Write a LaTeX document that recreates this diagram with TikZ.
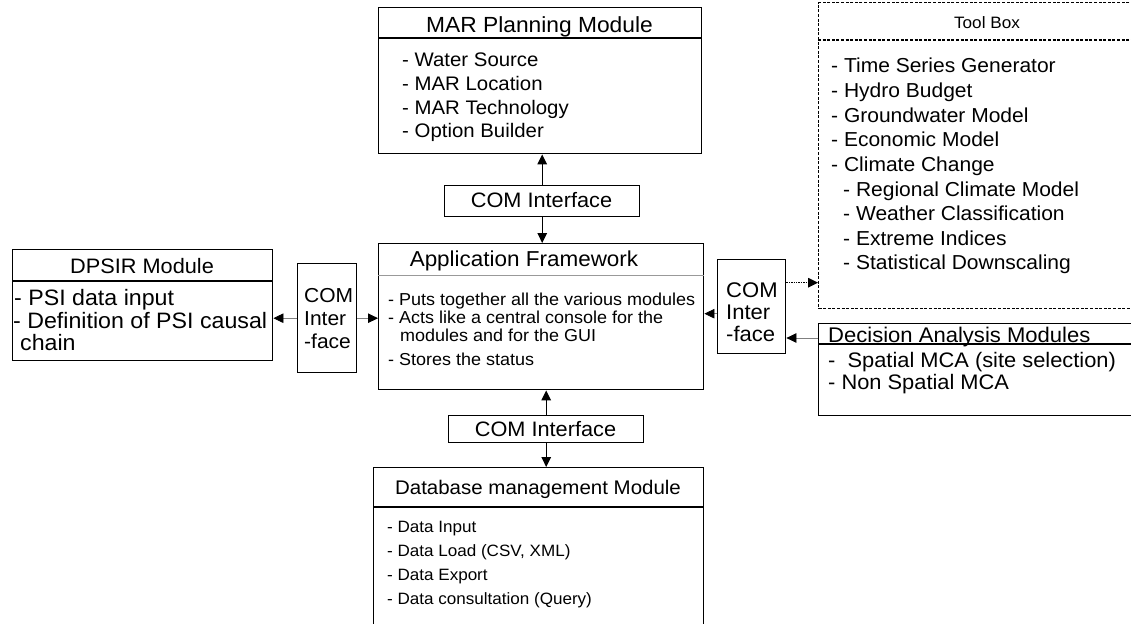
\documentclass[tikz,border=0pt]{standalone}
\usepackage{fontspec}
\setmainfont[FakeStretch=1.04]{Liberation Sans}
\usetikzlibrary{arrows.meta}
\newcommand{\fs}[1]{\fontsize{#1}{#1}\selectfont}
\begin{document}
\begin{tikzpicture}[x=1pt,y=-1pt,
  box/.style={draw,line width=1.4pt,rectangle,inner sep=0,anchor=north west},
  toolbox/.style={box,dash pattern=on 3pt off 1.6pt,line width=1.3pt},
  rulefull/.style={line width=1.1pt},
  ruletool/.style={line width=1.2pt,dash pattern=on 3pt off 1.6pt},
  rulesoft/.style={line width=0.8pt,draw=black!40},
  txt/.style={inner sep=0,anchor=base west},
  ctxt/.style={inner sep=0,anchor=base},
  arr/.style={line width=1.3pt,-{Triangle[length=10pt,width=9.5pt]}},
  sidearr/.style={line width=0.8pt,draw=black!50,-{Triangle[length=10pt,width=9.5pt,color=black]}},
  dotarr/.style={line width=1.4pt,densely dotted,-{Triangle[length=10pt,width=9.5pt]}},
]
\useasboundingbox (0,0) rectangle (1131,623);
\fill[white] (0,0) rectangle (1131,623);
\clip (0,0) rectangle (1131,623);

% ---- MAR Planning Module
\node[box,minimum width=323pt,minimum height=146pt] (mar) at (378,7) {};
\draw[rulefull] ([yshift=-31pt]mar.north west) -- ([yshift=-31pt]mar.north east);
\node[ctxt,font=\fs{21.9}] (martitle) at (539.5,33) {MAR Planning Module};
\foreach \t/\yy [count=\i] in {- Water Source/67,- MAR Location/90.5,- MAR Technology/114,- Option Builder/137.5}
  \node[txt,font=\fs{19.6}] (mar\i) at (402,\yy) {\t};

% ---- upper COM interface
\node[box,minimum width=195pt,minimum height=31pt] (comA) at (444,185) {};
\node[ctxt,font=\fs{20.9}] (comAtext) at (541.5,207) {COM Interface};

% ---- Application Framework
\node[box,minimum width=325pt,minimum height=146pt] (app) at (378,243) {};
\draw[rulesoft] ([yshift=-32pt]app.north west) -- ([yshift=-32pt]app.north east);
\node[ctxt,font=\fs{21.6}] (apptitle) at (524,266) {Application Framework};
\node[txt,font=\fs{17.3}] (app1) at (388,305) {- Puts together all the various modules};
\node[txt,font=\fs{17.3}] (app2) at (388,323) {- Acts like a central console for the};
\node[txt,font=\fs{17.3}] (app3) at (400,341) {modules and for the GUI};
\node[txt,font=\fs{17.3}] (app4) at (388,365) {- Stores the status};

% ---- lower COM interface
\node[box,minimum width=195pt,minimum height=27pt] (comB) at (448,415) {};
\node[ctxt,font=\fs{20.9}] (comBtext) at (545.5,436) {COM Interface};

% ---- Database management Module
\node[box,minimum width=330pt,minimum height=170pt] (db) at (373,467) {};
\draw[rulefull] ([yshift=-40pt]db.north west) -- ([yshift=-40pt]db.north east);
\node[ctxt,font=\fs{19.7}] (dbtitle) at (538,494) {Database management Module};
\foreach \t/\yy [count=\i] in {- Data Input/532,{- Data Load (CSV, XML)}/556,- Data Export/580,- Data consultation (Query)/604}
  \node[txt,font=\fs{16.4}] (db\i) at (387,\yy) {\t};

% ---- DPSIR Module
\node[box,minimum width=260pt,minimum height=111pt] (dpsir) at (12,249) {};
\draw[rulefull] ([yshift=-32pt]dpsir.north west) -- ([yshift=-32pt]dpsir.north east);
\node[ctxt,font=\fs{20.9}] (dpsirtitle) at (142,273) {DPSIR Module};
\node[txt,font=\fs{22.3}] (dpsir1) at (14,305) {- PSI data input};
\node[txt,font=\fs{22.3}] (dpsir2) at (13,328) {- Definition of PSI causal};
\node[txt,font=\fs{22.3}] (dpsir3) at (20,350) {chain};

% ---- left COM interface
\node[box,minimum width=59pt,minimum height=109pt] (comL) at (297,263) {};
\foreach \t/\yy [count=\i] in {COM/302,Inter/325,-face/348}
  \node[txt,font=\fs{20.2}] (comL\i) at (304,\yy) {\t};

% ---- right COM interface
\node[box,minimum width=68pt,minimum height=94pt] (comR) at (717,259) {};
\foreach \t/\yy [count=\i] in {COM/297,Inter/319,-face/341}
  \node[txt,font=\fs{21.2}] (comR\i) at (726,\yy) {\t};

% ---- Tool Box
\node[toolbox,minimum width=345pt,minimum height=306pt] (tool) at (818,2) {};
\draw[ruletool] ([yshift=-38pt]tool.north west) -- ([yshift=-38pt]tool.north east);
\node[ctxt,font=\fs{16.5}] (tooltitle) at (987,29) {Tool Box};
\foreach \t/\xx/\yy [count=\i] in {- Time Series Generator/831/73,- Hydro Budget/831/97.5,- Groundwater Model/831/122,- Economic Model/831/146.5,- Climate Change/831/171,- Regional Climate Model/843/196,- Weather Classification/843/220.5,- Extreme Indices/843/245,- Statistical Downscaling/843/269.5}
  \node[txt,font=\fs{20.2}] (tool\i) at (\xx,\yy) {\t};

% ---- Decision Analysis Modules
\node[box,minimum width=345pt,minimum height=92pt] (dec) at (818,323) {};
\draw[rulefull] ([yshift=-21pt]dec.north west) -- ([yshift=-21pt]dec.north east);
\node[txt,font=\fs{21.2}] (dectitle) at (828,342) {Decision Analysis Modules};
\node[txt,font=\fs{21}] (dec1) at (828,367) {-\ \ Spatial MCA (site selection)};
\node[txt,font=\fs{21}] (dec2) at (828,389) {- Non Spatial MCA};

% ---- connectors
\draw[arr] (comA.north) -- (comA.north |- mar.south);
\draw[arr] (comA.south) -- (comA.south |- app.north);
\draw[arr] (comB.north) -- (comB.north |- app.south);
\draw[arr] (comB.south) -- (comB.south |- db.north);
\draw[sidearr] (comL.west) -- (comL.west -| dpsir.east);
\draw[sidearr] (comL.east) -- (comL.east -| app.west);
\coordinate (rApp) at ([yshift=-7pt]comR.west);
\draw[sidearr] (rApp) -- (rApp -| app.east);
\coordinate (rTool) at ([yshift=24pt]comR.east);
\draw[dotarr] (rTool) -- (rTool -| tool.west);
\coordinate (rDec) at ([yshift=-15pt]dec.north west);
\draw[sidearr] (rDec) -- (rDec -| comR.east);
\end{tikzpicture}
\end{document}
